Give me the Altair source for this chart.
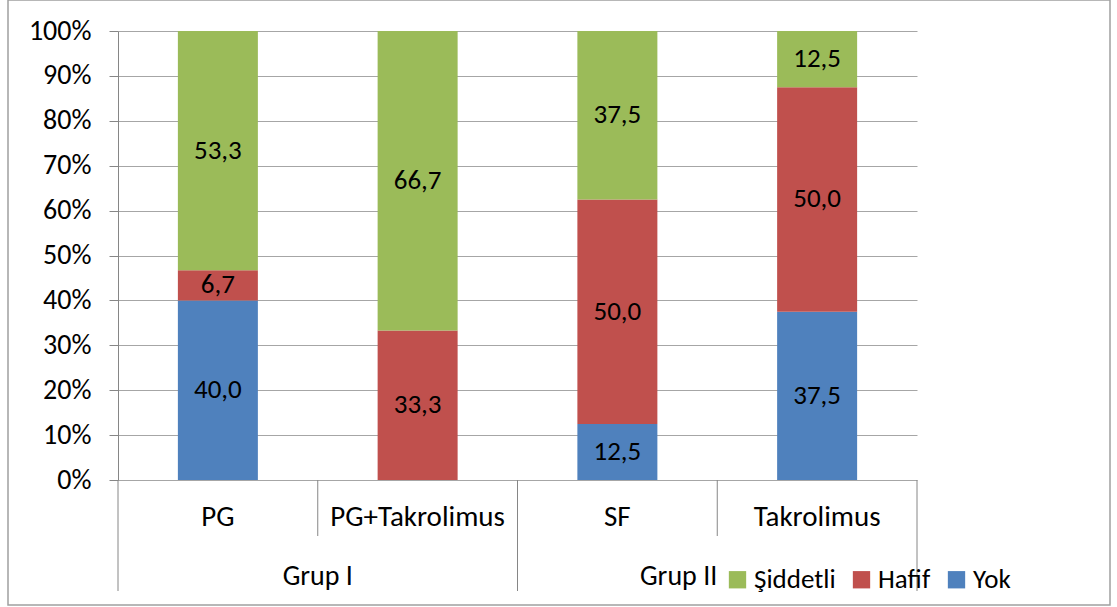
import altair as alt
import pandas as pd

# Treatment arms and their groups
categories = ["PG", "PG+Takrolimus", "SF", "Takrolimus"]
groups = ["Grup I", "Grup II"]

# Percentage of patients by severity in each arm
yok = [40.0, 0.0, 12.5, 37.5]
hafif = [6.7, 33.3, 50.0, 50.0]
siddetli = [53.3, 66.7, 37.5, 12.5]

series_names = ["Şiddetli", "Hafif", "Yok"]
series_colors = ["#9BBB59", "#C0504D", "#4F81BD"]
y_ticks = [0, 10, 20, 30, 40, 50, 60, 70, 80, 90, 100]

FONT = "Carlito, Lato"

rows = []
for i, cat in enumerate(categories):
    for order, (name, vals) in enumerate([("Yok", yok), ("Hafif", hafif), ("Şiddetli", siddetli)]):
        rows.append({"cat": cat, "idx": i, "series": name, "value": vals[i], "order": order})
df = pd.DataFrame(rows)

cat_df = pd.DataFrame({"cat": categories, "idx": list(range(len(categories)))})
# category separators: inner ones split arms inside a group, outer ones split groups
inner_sep = pd.DataFrame({"b": [0.5, 2.5]})
outer_sep = pd.DataFrame({"b": [-0.5, 1.5, 3.5]})
group_df = pd.DataFrame({"grp": groups, "pos": [0.5, 2.5], "anchor": ["center", "right"]})

xscale = alt.Scale(domain=[-0.5, 3.5], nice=False, zero=False, padding=0)
yscale = alt.Scale(domain=[0, 100], nice=False)

base = alt.Chart(df)

bars = base.mark_bar(size=80).encode(
    x=alt.X("idx:Q", scale=xscale, axis=None),
    y=alt.Y(
        "value:Q",
        stack="zero",
        scale=yscale,
        axis=alt.Axis(
            values=y_ticks,
            labelExpr="datum.value + '%'",
            title=None,
            grid=True,
            gridColor="#A6A6A6",
            domainColor="#868686",
            tickColor="#868686",
            tickSize=9,
            labelPadding=18,
            labelFont=FONT,
            labelFontSize=28,
            labelColor="#000000",
        ),
    ),
    color=alt.Color(
        "series:N",
        scale=alt.Scale(domain=series_names, range=series_colors),
        legend=alt.Legend(
            title=None,
            orient="none",
            direction="horizontal",
            legendX=606,
            legendY=535,
            symbolType="square",
            symbolSize=300,
            symbolStrokeWidth=0,
            symbolOpacity=1,
            labelFont=FONT,
            labelFontSize=27,
            labelColor="#000000",
            labelOffset=3,
            columnPadding=12,
        ),
    ),
    order=alt.Order("order:Q", sort="ascending"),
)

labels = (
    base.transform_stack(
        stack="value", groupby=["cat"], as_=["v0", "v1"], sort=[alt.SortField("order", "ascending")]
    )
    .transform_filter("datum.value > 0")
    .transform_calculate(mid="(datum.v0 + datum.v1) / 2", txt="replace(format(datum.value, '.1f'), '.', ',')")
    .mark_text(font=FONT, fontSize=27, color="#000000", baseline="middle")
    .encode(x=alt.X("idx:Q", scale=xscale), y=alt.Y("mid:Q", scale=yscale), text="txt:N")
)

cat_labels = (
    alt.Chart(cat_df)
    .mark_text(font=FONT, fontSize=29, color="#000000", baseline="middle")
    .encode(x=alt.X("idx:Q", scale=xscale), y=alt.value(486), text="cat:N")
)

inner_rules = (
    alt.Chart(inner_sep)
    .mark_rule(color="#868686", strokeWidth=1)
    .encode(x=alt.X("b:Q", scale=xscale), y=alt.value(449), y2=alt.value(505))
)
outer_rules = (
    alt.Chart(outer_sep)
    .mark_rule(color="#868686", strokeWidth=1)
    .encode(x=alt.X("b:Q", scale=xscale), y=alt.value(449), y2=alt.value(560))
)

grp_center = (
    alt.Chart(group_df)
    .transform_filter("datum.anchor == 'center'")
    .mark_text(font=FONT, fontSize=28, color="#000000", baseline="middle", align="center")
    .encode(x=alt.X("pos:Q", scale=xscale), y=alt.value(546), text="grp:N")
)
grp_right = (
    alt.Chart(group_df)
    .transform_filter("datum.anchor == 'right'")
    .mark_text(font=FONT, fontSize=28, color="#000000", baseline="middle", align="right")
    .encode(x=alt.X("pos:Q", scale=xscale), y=alt.value(546), text="grp:N")
)

frame = (
    alt.Chart(cat_df.head(1))
    .mark_rect(fill="transparent", stroke="#A0A0A0", strokeWidth=1.5)
    .encode(x=alt.value(-110), x2=alt.value(992), y=alt.value(-31), y2=alt.value(574))
)

chart = (
    alt.layer(frame, bars, labels, inner_rules, outer_rules, cat_labels, grp_center, grp_right)
    .properties(
        width=799,
        height=449,
        padding={"left": 118, "top": 31, "right": 200, "bottom": 127},
        autosize=alt.AutoSizeParams(type="none"),
        background="#FFFFFF",
    )
    .configure_view(stroke=None)
)

chart.save("out.html", embed_options={"renderer": "svg", "actions": False})
